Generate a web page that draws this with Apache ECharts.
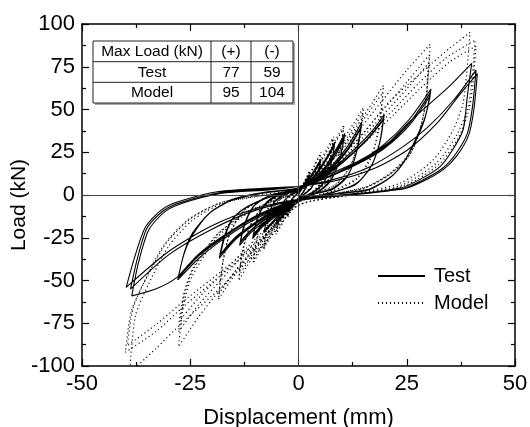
<!DOCTYPE html>
<html><head><meta charset="utf-8">
<script src="https://cdn.jsdelivr.net/npm/echarts@6/dist/echarts.min.js"></script>
<style>html,body{margin:0;padding:0;background:#fff}#c{width:530px;height:427px}</style>
</head><body><div id="c"></div>
<script>
// ---- axis ticks ----
const xTicks = [-50, -25, 0, 25, 50];
const yTicks = [-100, -75, -50, -25, 0, 25, 50, 75, 100];
const seriesNames = ['Test', 'Model'];

// ---- table values ----
const tableHeader = ['Max Load (kN)', '(+)', '(-)'];
const tableRowNames = ['Test', 'Model'];
const tablePos = [77, 95];
const tableNeg = [59, 104];

// ---- Test hysteresis (displacement mm, load kN) ----
const testA = [[0,0],[1.2,6],[2.5,12],[2.0,6],[1.2,2],[0,-1.5],[-1.2,-5.5],[-2.5,-10],[-2.0,-5],[-1.2,-1.5],[0,1.5],
[1.3,6],[2.5,11],[2.0,5.5],[1.1,1.5],[0,-1.5],[-1.3,-5.5],[-2.6,-9.5],[-2.0,-4.5],[-1.1,-1],[0,1.5]];
const testB = [[2,8],[3.5,14],[5.2,21],[4.4,12],[3.2,5],[1.5,1],[0,-2],[-2,-7],[-3.5,-12],[-5.2,-17],[-4.4,-9],[-3.2,-3],[-1.5,0.5],[0,2.5],
[2,7.5],[3.6,13],[5.1,20],[4.3,11],[3,4],[1.4,0.5],[0,-2],[-2,-6.5],[-3.6,-11.5],[-5.1,-16],[-4.3,-8],[-3,-2.5],[-1.4,1],[0,2.5]];
const testC = [[2.5,8],[5,16],[7,24],[8.4,31],[7.5,18],[6,8],[3.5,2],[0,-2.5],[-2.5,-8],[-5,-14],[-8,-22],[-7,-12],[-5.5,-4],[-3,0.5],[0,3],
[2.5,7.5],[5,15],[7,23],[8.3,29],[7.4,17],[5.8,7],[3.4,1.5],[0,-2.5],[-2.5,-7.5],[-5,-13],[-7.9,-21],[-6.9,-11],[-5.4,-3.5],[-3,1],[0,3]];
const testD = [[3,8],[6,16],[8.5,26],[10.7,36],[9.5,21],[7.5,9],[4.5,2],[0,-3],[-3,-8],[-6,-14],[-8.5,-19],[-10.6,-25.5],[-9.5,-14],[-7.5,-5],[-4,0.5],[0,3.5],
[3,7.5],[6,15],[8.6,25],[10.6,34],[9.4,20],[7.3,8],[4.4,1.5],[0,-3],[-3,-7.5],[-6,-13],[-8.6,-18.5],[-10.5,-24],[-9.4,-13],[-7.4,-4.5],[-4,1],[0,3.5],
[3,7],[6,14],[8.7,24],[10.5,33],[9.3,19],[7.2,7.5],[4.3,1.5],[0,-3],[-3,-7],[-6,-12.5],[-8.7,-18],[-10.4,-23],[-9.3,-12.5],[-7.3,-4],[-4,1],[0,3.5]];
const testE = [[4,9],[8,18],[11.5,29],[14.6,42.5],[13.5,26],[11.5,12],[8,4],[3.5,0.5],[0,-3],[-4,-9],[-8,-16],[-11,-22],[-13.6,-29.5],[-12.6,-18],[-10.5,-7],[-7,-1],[-3,2],[0,4],
[4,8.5],[8,17],[11.5,27.5],[14.5,40],[13.4,25],[11.3,11],[7.8,3.5],[3.4,0.5],[0,-3],[-4,-8.5],[-8,-15],[-11,-21],[-13.5,-28],[-12.4,-17],[-10.3,-6.5],[-6.8,-0.5],[-3,2],[0,4],
[4,8],[8,16.5],[11.6,27],[14.4,39],[13.3,24],[11.2,10.5],[7.7,3],[3.3,0.5],[0,-3],[-4,-8],[-8,-14.5],[-11,-20.5],[-13.4,-27],[-12.3,-16.5],[-10.2,-6],[-6.7,-0.5],[-3,2],[0,4]];
const testF = [[5,10],[10,20],[15,32],[17.5,39],[19.8,47],[18.8,31],[16.8,17],[13.5,7],[8,1.5],[0,-3],[-5,-9],[-10,-17],[-14.5,-26],[-18.3,-37],[-17.2,-25],[-15.5,-15],[-13,-8.8],[-9,-3.5],[-4,1],[0,4],
[5,9.5],[10,19],[15,30.5],[17.5,37.5],[19.7,45],[18.7,30],[16.7,16.5],[13.3,6.5],[7.8,1.5],[0,-3],[-5,-8.5],[-10,-16.5],[-14.5,-25],[-18.2,-35.5],[-17.1,-24],[-15.4,-14.5],[-12.8,-8.5],[-8.8,-3],[-3.8,1.5],[0,4],
[5,9],[10,18.5],[15,30],[17.5,37],[19.6,44],[18.6,29],[16.6,16],[13.1,6],[7.6,1.5],[0,-3],[-5,-8],[-10,-16],[-14.5,-24.5],[-18,-34.5],[-16.9,-23.5],[-15.2,-14],[-12.6,-8],[-8.6,-3],[-3.6,1.5],[0,4]];
const testG = [[7,12],[14,20],[19.5,29],[25.5,44],[30.6,62],[29.3,46],[27.3,34],[24.5,20],[22,12],[18.5,6],[15.7,3],[8,0.5],[0,-3],[-6,-9],[-12,-17],[-18,-27],[-23,-37],[-27.9,-49.7],[-26.5,-35],[-24.6,-24],[-20.7,-11],[-15.4,-3],[-8.4,1],[0,4],
[7,11],[14,19],[19.6,27.5],[25.6,42],[30.5,60],[29.2,45],[27.2,33],[24.3,19],[21.8,11.5],[18.3,5.5],[15.5,2.5],[8,0.5],[0,-3],[-6,-8.5],[-12,-16],[-18,-26],[-23,-35.5],[-27.8,-48.5],[-26.4,-34],[-24.5,-23],[-20.5,-10.5],[-15.2,-2.5],[-8.2,1.5],[0,4],
[7,10.5],[14,18.5],[19.7,27],[25.7,41],[30.4,58],[29.1,44],[27.1,32],[24.1,18.5],[21.6,11],[18.1,5.5],[15.3,2.5],[8,0.5],[0,-3],[-6,-8],[-12,-15.5],[-18,-25],[-23,-34.5],[-27.7,-47.5],[-26.3,-33],[-24.4,-22],[-20.3,-10],[-15,-2.5],[-8,1.5],[0,4]];
const testH = [[8,12],[15,21],[21,31],[25.7,43],[30.6,54],[35,64],[40,77],[39,58],[38,38],[35.5,26],[32.7,16.6],[28,9],[23.4,4],[12,0],[0,-3],[-8,-10],[-15,-20],[-22,-33],[-28,-48],[-33,-55],[-38.5,-59],[-37,-40],[-34.6,-20.5],[-31,-10],[-27,-5],[-17.7,1],[-7,3],[0,5],
[8,9],[16,16],[24,28],[30,40],[36,56],[41,73],[40.2,52],[39,36],[36.3,24],[33.2,15.5],[28.5,8.5],[23.8,3.5],[12,0],[0,-3],[-10,-9],[-20,-20],[-30,-35],[-38.8,-55],[-37.2,-37],[-35,-19.5],[-31.4,-9.5],[-27.4,-4.5],[-18,1.5],[-7,3.5],[0,5],
[8,8],[17,15],[25,26],[32,42],[37,58],[41.3,71],[40.5,50],[39.3,35],[36.6,23],[33.5,15],[28.8,8],[24.2,3.5],[12,0.5],[0,-2.5],[-10,-8],[-20,-18],[-30,-33],[-39.8,-54],[-37.8,-36],[-35.4,-19],[-31.8,-9],[-27.8,-4],[-18.4,2],[-7,4],[0,5]];

// ---- Model hysteresis ----
const modelA = [[0,0],[1.2,7],[2.5,14],[2.0,7],[1.2,2.5],[0,-2],[-1.2,-7],[-2.5,-13],[-2.0,-6.5],[-1.2,-2],[0,2],
[1.3,7.5],[2.6,13.5],[2.0,6.5],[1.1,2],[0,-2],[-1.3,-7],[-2.6,-12.5],[-2.0,-6],[-1.1,-1.5],[0,2]];
const modelB = [[2,10],[3.6,17],[5.2,25],[4.4,14],[3.2,6],[1.5,1],[0,-3],[-2,-9],[-3.6,-16],[-5.2,-23],[-4.4,-12],[-3.2,-4.5],[-1.5,0],[0,3],
[2,9.5],[3.6,16.5],[5.1,24],[4.3,13],[3,5.5],[1.4,0.5],[0,-3],[-2,-8.5],[-3.6,-15.5],[-5.1,-22],[-4.3,-11],[-3,-4],[-1.4,0.5],[0,3]];
const modelC = [[2.5,10],[5,20],[6.8,28],[8.1,34],[7.3,21],[6,10],[3.5,2.5],[0,-3.5],[-2.5,-10],[-5,-19],[-6.8,-26],[-8.1,-32],[-7.3,-19],[-6,-8],[-3.5,-1],[0,3.5],
[2.5,9.5],[5,19],[6.9,27],[8,33],[7.2,20],[5.8,9],[3.4,2],[0,-3.5],[-2.5,-9.5],[-5,-18],[-6.9,-25],[-8,-31],[-7.2,-18],[-5.8,-7.5],[-3.4,-0.5],[0,3.5]];
const modelD = [[3,11],[6,21],[8.5,32],[10.5,41],[9.6,26],[7.8,12],[4.5,3],[0,-4],[-3,-11],[-6,-21],[-8.5,-31],[-10.5,-40],[-9.6,-25],[-7.8,-11],[-4.5,-2],[0,4],
[3,10.5],[6,20],[8.6,31],[10.4,39],[9.5,25],[7.6,11],[4.4,2.5],[0,-4],[-3,-10.5],[-6,-20],[-8.6,-30],[-10.4,-38],[-9.5,-24],[-7.6,-10],[-4.4,-1.5],[0,4]];
const modelE = [[4,12],[8,24],[11.5,37],[15,51],[14,33],[12,17],[8.5,6],[4,1],[0,-4],[-4,-13],[-8,-26],[-11,-38],[-13.8,-50],[-12.8,-32],[-10.8,-16],[-7.5,-5],[-3.5,0],[0,4],
[4,11.5],[8,23],[11.6,35],[14.8,48],[13.8,31],[11.8,16],[8.3,5.5],[3.9,1],[0,-4],[-4,-12.5],[-8,-25],[-11,-36],[-13.7,-47],[-12.7,-30],[-10.6,-15],[-7.3,-4.5],[-3.4,0.5],[0,4]];
const modelF = [[5,13],[10,28],[15,46],[19.6,64],[18.8,42],[17,24],[13.5,10],[8,2.5],[0,-4],[-5,-16],[-10,-31],[-14.5,-46],[-18.5,-61],[-17.5,-40],[-15.8,-22],[-12.5,-9],[-7.5,-2],[0,4],
[5,12.5],[10,27],[15,44],[19.5,60],[18.6,40],[16.8,22],[13.3,9],[7.8,2],[0,-4],[-5,-15.5],[-10,-30],[-14.5,-44],[-18.4,-58],[-17.4,-38],[-15.6,-21],[-12.3,-8.5],[-7.3,-1.5],[0,4]];
const modelG = [[6,16],[12,32],[19.6,56],[25,73],[30.4,88],[29.6,57.5],[28,38],[25.7,24.5],[21.1,12.7],[15.7,4.9],[8,0.5],[0,-4],[-6,-19],[-12,-37],[-18,-55],[-23,-71],[-27.7,-88.7],[-26.5,-64],[-24.6,-47.8],[-19.2,-26],[-13,-12.7],[-6.9,-4.9],[0,2],
[6,14],[12,28],[19.6,50],[25,66],[30.2,82],[29.4,54],[27.8,36],[25.5,23],[21,12],[15.5,4.5],[8,0.5],[0,-4],[-6,-17],[-12,-33],[-18,-50],[-23,-64],[-27.7,-80],[-26.4,-59],[-24.4,-44],[-19,-24],[-12.8,-11.5],[-6.8,-4.5],[0,2],
[6,13],[12,26],[19.6,47],[25,62],[30,77],[29.2,52],[27.6,34],[25.3,22],[20.8,11.5],[15.3,4],[8,0.5],[0,-4],[-6,-16],[-12,-31],[-18,-47],[-23,-60],[-27.6,-74],[-26.3,-56],[-24.2,-42],[-18.8,-23],[-12.6,-11],[-6.6,-4],[0,2]];
const modelH = [[8,18],[15,36],[20,52],[25,64],[30.8,77],[35,86],[39.6,95],[38.8,70],[38,53.6],[35.7,38],[31.1,20.5],[23.4,6.8],[12,0.5],[0,-6],[-6.9,-26],[-17.7,-53.6],[-27,-75],[-33,-90],[-39,-104],[-37.7,-71],[-34.6,-52],[-30,-30],[-24.6,-15],[-17.7,-5],[-10,-1],[0,3],
[8,16],[15,32],[22,50],[28,66],[34,80],[40.8,90.6],[40,66],[39,50],[36.5,35],[32,19],[24,6],[12,0],[0,-6],[-8,-25],[-17,-45],[-26,-64],[-33,-80],[-40,-92],[-38.6,-68],[-35.5,-50],[-31,-29],[-25.5,-14.5],[-18.5,-5],[-10.5,-1],[0,3],
[8,15],[15,30],[22,47],[28,62],[35,78],[41,87],[40.2,63],[39.2,48],[36.8,33],[32.5,18],[24.5,5.5],[12,0],[0,-6],[-8,-24],[-17,-43],[-26,-61],[-33,-76],[-39.5,-88],[-38.2,-66],[-35,-48],[-30.5,-28],[-25,-14],[-18,-4.5],[-10,-0.5],[0,3]];

const testPath = [].concat(testA, testB, testC, testD, testE, testF, testG, testH);
const modelPath = [].concat(modelA, modelB, modelC, modelD, modelE, modelF, modelG, modelH);

const FONT = '"Liberation Sans", Arial, Helvetica, sans-serif';
const chart = echarts.init(document.getElementById('c'), null, {renderer: 'canvas'});

function makeAxis(pos, isX, main) {
  const a = {
    type: 'value', position: pos,
    min: isX ? xTicks[0] : yTicks[0],
    max: isX ? xTicks[xTicks.length - 1] : yTicks[yTicks.length - 1],
    interval: 25,
    axisLine: {show: true, onZero: false, lineStyle: {color: '#000', width: 1.5}},
    axisTick: {show: true, inside: true, length: 7, lineStyle: {color: '#000', width: 1.2}},
    minorTick: {show: true, splitNumber: 2, length: 4, lineStyle: {color: '#000', width: 1.2}},
    splitLine: {show: false},
    axisLabel: {show: main, fontSize: 22, color: '#000', fontFamily: FONT, margin: 7}
  };
  if (main) {
    a.nameMoveOverlap = false;
    if (isX) {
      a.name = 'Displacement (mm)';
      a.nameLocation = 'middle';
      a.nameGap = 41;
      a.nameTextStyle = {fontSize: 22, color: '#000', fontFamily: FONT};
    } else {
      a.name = 'Load (kN)';
      a.nameLocation = 'middle';
      a.nameGap = 52;
      a.nameTextStyle = {fontSize: 21, color: '#000', fontFamily: FONT, padding: [0, 20, 0, 0]};
    }
  }
  return a;
}

// table layout
const tx = [93, 211, 251, 293];
const ty = [41, 61.7, 82.3, 103];
const tableEls = [];
tableEls.push({type: 'rect', shape: {x: tx[0] + 2, y: ty[0] + 2, width: tx[3] - tx[0], height: ty[3] - ty[0]}, style: {fill: '#a8a8a8'}, z: 10});
tableEls.push({type: 'rect', shape: {x: tx[0], y: ty[0], width: tx[3] - tx[0], height: ty[3] - ty[0]}, style: {fill: '#fff', stroke: '#222', lineWidth: 1}, z: 11});
[ty[1], ty[2]].forEach(y => tableEls.push({type: 'line', shape: {x1: tx[0], y1: y, x2: tx[3], y2: y}, style: {stroke: '#222', lineWidth: 1}, z: 12}));
[tx[1], tx[2]].forEach(x => tableEls.push({type: 'line', shape: {x1: x, y1: ty[0], x2: x, y2: ty[3]}, style: {stroke: '#222', lineWidth: 1}, z: 12}));
const rowsText = [tableHeader, [tableRowNames[0], String(tablePos[0]), String(tableNeg[0])], [tableRowNames[1], String(tablePos[1]), String(tableNeg[1])]];
rowsText.forEach((row, r) => row.forEach((t, c) => {
  tableEls.push({type: 'text', x: (tx[c] + tx[c + 1]) / 2, y: (ty[r] + ty[r + 1]) / 2 + 0.5, z: 13,
    style: {text: t, fill: '#000', fontSize: 15.5, fontFamily: FONT, align: 'center', verticalAlign: 'middle'}});
}));

chart.setOption({
  animation: false,
  backgroundColor: '#fff',
  grid: {left: 82, right: 15, top: 24, bottom: 61, containLabel: false, outerBoundsMode: 'none'},
  xAxis: [makeAxis('bottom', true, true), makeAxis('top', true, false)],
  yAxis: [makeAxis('left', false, true), makeAxis('right', false, false)],
  legend: {
    data: seriesNames, orient: 'vertical', left: 372, top: 261,
    itemWidth: 47, itemHeight: 20, itemGap: 7,
    itemStyle: {opacity: 0},
    textStyle: {fontSize: 20, color: '#000', fontFamily: FONT, padding: [0, 0, 0, 4]}
  },
  graphic: {elements: tableEls},
  series: [
    {
      name: seriesNames[0], type: 'line', data: testPath, symbol: 'none', smooth: 0.25,
      lineStyle: {color: '#000', width: 1.1}, itemStyle: {color: '#000'}, z: 3,
      markLine: {silent: true, symbol: ['none', 'none'], label: {show: false},
        lineStyle: {color: '#444', width: 1, type: 'solid'},
        data: [{xAxis: 0}, {yAxis: 0}]}
    },
    {
      name: seriesNames[1], type: 'line', data: modelPath, symbol: 'none', smooth: 0.25,
      lineStyle: {color: '#000', width: 1.2, type: [1.1, 2.9]}, itemStyle: {color: '#000'}, z: 2
    }
  ]
});
</script>
</body></html>
